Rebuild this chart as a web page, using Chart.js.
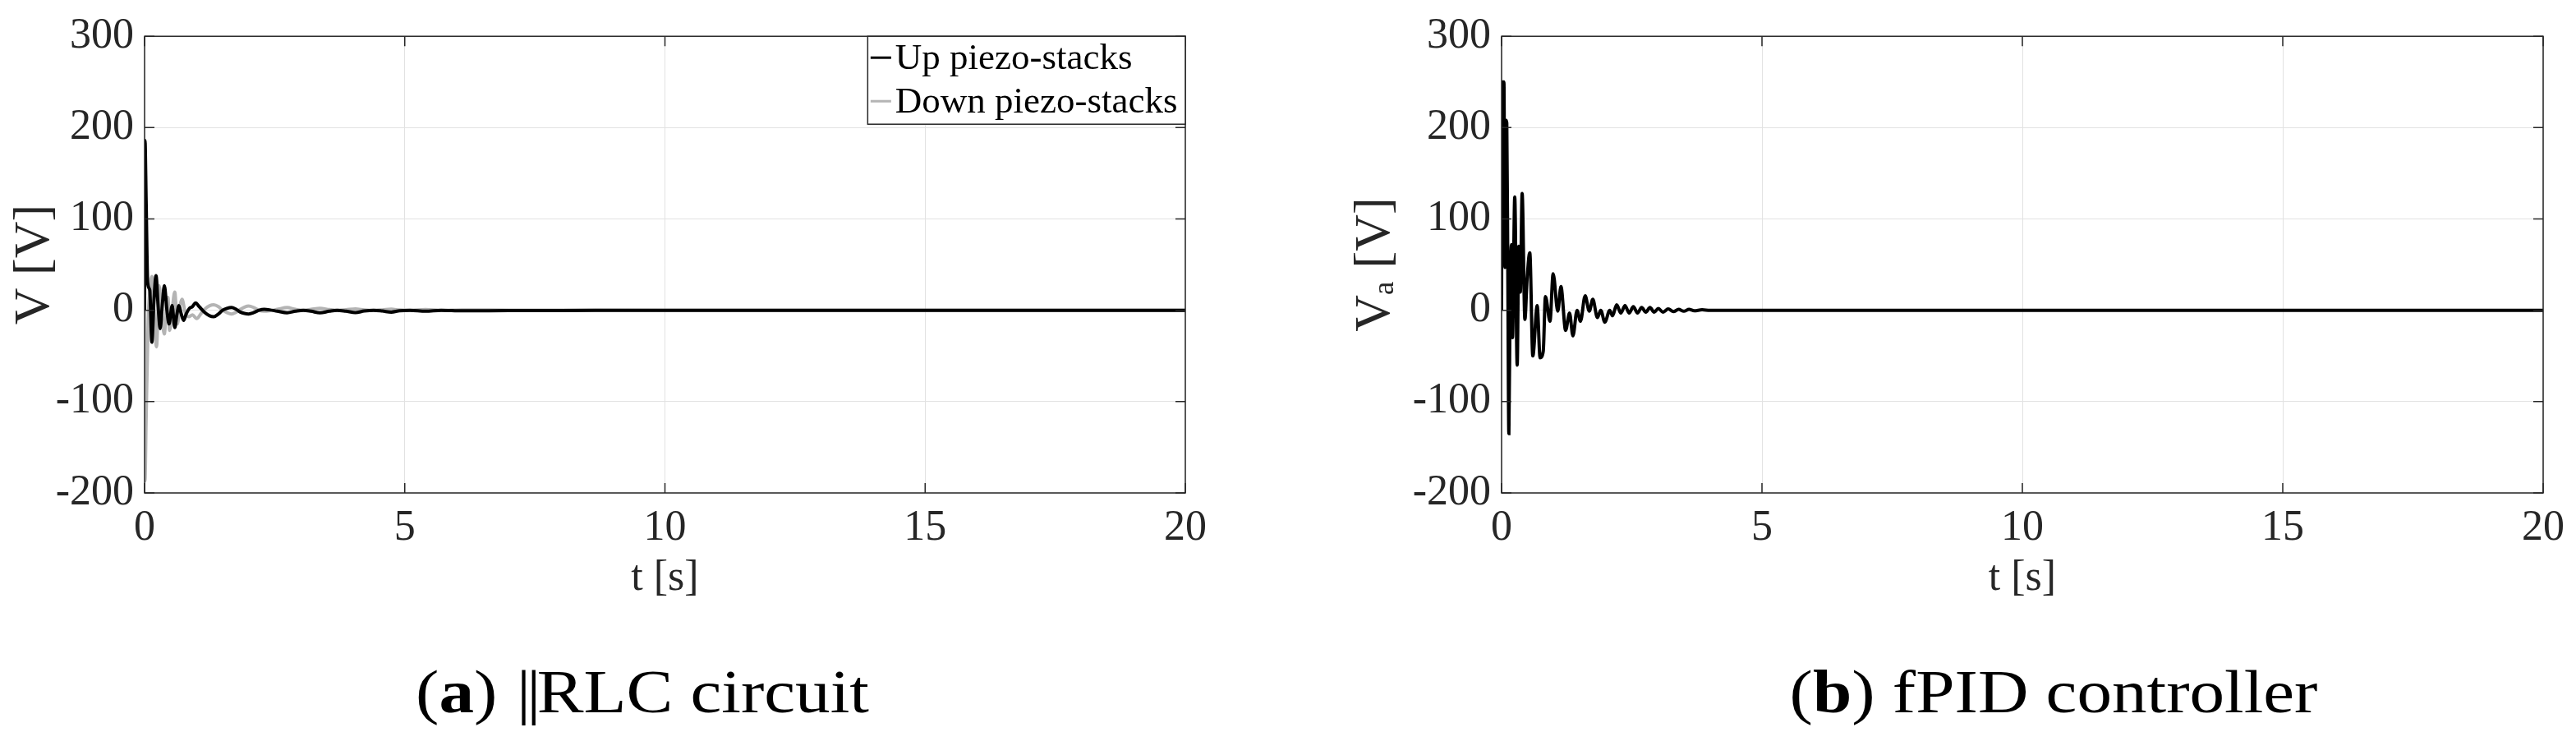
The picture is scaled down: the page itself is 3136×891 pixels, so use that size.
<!DOCTYPE html>
<html>
<head>
<meta charset="utf-8">
<script src="https://cdn.jsdelivr.net/npm/chart.js@4.4.1/dist/chart.umd.min.js"></script>
<style>
  html, body { margin: 0; padding: 0; background: #fff; }
  body { width: 3136px; height: 891px; position: relative; overflow: hidden; }
  .panel { position: absolute; top: 0; height: 736px; }
  .caption { position: absolute; top: 805px; font-family: "Liberation Serif", serif; font-size: 74px; color: #000; white-space: nowrap; transform: translateX(-50%) scaleX(1.15); line-height: 1; }
  .bars { letter-spacing: -4px; margin-left: 6px; }
</style>
</head>
<body>
<div class="panel" style="left:0;width:1500px;"><canvas id="chartA" width="1500" height="736"></canvas></div>
<div class="panel" style="left:1568px;width:1568px;"><canvas id="chartB" width="1568" height="736"></canvas></div>
<div class="caption" style="left:782px;">(<b>a</b>)<span class="bars"> ||</span>RLC circuit</div>
<div class="caption" style="left:2500px;">(<b>b</b>) fPID controller</div>
<script>
// ---------- data ----------
const xTicks = [0, 5, 10, 15, 20];
const yTicks = [-200, -100, 0, 100, 200, 300];

const seriesNamesA = ["Up piezo-stacks", "Down piezo-stacks"];

const upT = [0, 0.008, 0.03, 0.06, 0.1, 0.14, 0.18, 0.22, 0.26, 0.3, 0.34, 0.38, 0.43, 0.47, 0.53, 0.58, 0.62, 0.66, 0.7, 0.75, 0.8, 0.86, 0.92, 0.98, 1.05, 1.15, 1.25, 1.33, 1.42, 1.5, 1.58, 1.67, 1.76, 1.84, 1.92, 2.0, 2.1, 2.2, 2.3, 2.4, 2.55, 2.74, 2.9, 3.05, 3.2, 3.37, 3.55, 3.7, 3.87, 4.05, 4.22, 4.4, 4.57, 4.74, 4.9, 5.1, 5.4, 5.7, 6.1, 7, 8, 10, 12, 15, 20];
const upV = [0, 186, 120, 30, 22, -35, 10, 38, 5, -20, 5, 27, 0, -15, 5, -19, -5, 5, -3, -11, -4, 2, 4, 8, 4, -2, -6, -7, -4, 0, 2, 3, 1, -2, -3.5, -4, -2.5, 0, 1, 0.5, -1, -2.7, -1, 0, -1, -2.8, -1, 0, -1, -2.5, -0.8, 0, -0.8, -2, -0.5, 0, -1, 0, -0.6, -0.3, -0.2, 0, 0, 0, 0];

const downT = [0, 0.008, 0.03, 0.07, 0.1, 0.14, 0.18, 0.23, 0.28, 0.33, 0.38, 0.42, 0.45, 0.48, 0.53, 0.58, 0.63, 0.68, 0.72, 0.78, 0.85, 0.92, 1.0, 1.08, 1.15, 1.25, 1.33, 1.42, 1.5, 1.58, 1.67, 1.76, 1.84, 1.92, 2.0, 2.1, 2.2, 2.3, 2.4, 2.55, 2.74, 2.9, 3.05, 3.2, 3.37, 3.55, 3.7, 3.87, 4.05, 4.22, 4.4, 4.57, 4.74, 4.9, 5.1, 5.4, 5.7, 6.1, 7, 8, 10, 12, 15, 20];
const downV = [0, -187, -120, -10, 20, 37, 0, -40, 27, -5, -26, 5, 14, -22, 0, 20, -15, 5, 12, -2, -7, -5, -9, -4, 1, 5, 6, 4, 0, -2.5, -4, -2, 1, 3.5, 4.7, 3, 0, -1, -0.5, 1, 3, 1, 0, 1, 2.2, 0.8, 0, 0.6, 1.5, 0.5, 0, 0.5, 1.2, 0.3, 0, 0.8, 0, 0.4, 0.2, 0.1, 0, 0, 0, 0];

const fpidT = [0, 0.005, 0.01, 0.045, 0.065, 0.085, 0.1, 0.12, 0.14, 0.165, 0.19, 0.21, 0.253, 0.3, 0.33, 0.36, 0.395, 0.448, 0.49, 0.542, 0.6, 0.684, 0.74, 0.8, 0.842, 0.93, 0.99, 1.08, 1.14, 1.23, 1.305, 1.37, 1.45, 1.515, 1.605, 1.684, 1.752, 1.84, 1.904, 1.983, 2.077, 2.13, 2.21, 2.29, 2.37, 2.45, 2.53, 2.61, 2.69, 2.77, 2.85, 2.93, 3.01, 3.1, 3.2, 3.3, 3.4, 3.5, 3.6, 3.7, 3.85, 4.0, 4.5, 6, 10, 15, 20];
const fpidV = [0, 150, 250, 250, 47, 208, 205, 40, -135, 20, 72, -30, 124, -60, 70, 20, 128, -10, 34, 63, -50, 5, -52, -45, 15, -12, 40, -1, 26, -22, -3, -28, 0, -12, 16, -1, 12, -8, 0, -13, 0, -6, 6, -3, 5, -3, 4, -3, 3, -2, 3, -2, 2, -2, 1.5, -1.5, 1, -1, 1, -0.5, 0.5, 0, 0, 0, 0, 0, 0];

// ---------- helpers ----------
const toPts = (t, v) => t.map((x, i) => ({ x: x, y: v[i] }));
const AXIS_COLOR = '#262626';
const TICK_FONT = { family: 'Liberation Serif', size: 52 };
const XTITLE_FONT = { family: 'Liberation Serif', size: 52 };
const YTITLE_FONT = { family: 'Liberation Serif', size: 62 };

const boxAndTicks = {
  id: 'boxAndTicks',
  afterDraw(chart) {
    const { ctx, chartArea: a, scales } = chart;
    ctx.save();
    ctx.strokeStyle = AXIS_COLOR;
    ctx.lineWidth = 1.5;
    const len = 12;
    ctx.beginPath();
    scales.x.ticks.forEach(t => {
      const px = scales.x.getPixelForValue(t.value);
      ctx.moveTo(px, a.bottom); ctx.lineTo(px, a.bottom - len);
      ctx.moveTo(px, a.top); ctx.lineTo(px, a.top + len);
    });
    scales.y.ticks.forEach(t => {
      const py = scales.y.getPixelForValue(t.value);
      ctx.moveTo(a.left, py); ctx.lineTo(a.left + len, py);
      ctx.moveTo(a.right, py); ctx.lineTo(a.right - len, py);
    });
    ctx.stroke();
    ctx.strokeRect(a.left, a.top, a.right - a.left, a.bottom - a.top);
    ctx.restore();
  }
};

const boxLegend = {
  id: 'boxLegend',
  afterDraw(chart, args, opts) {
    if (!opts || !opts.show) return;
    const { ctx, chartArea: a } = chart;
    const ds = chart.data.datasets;
    ctx.save();
    ctx.font = '45px "Liberation Serif"';
    let tw = 0;
    ds.forEach(d => { tw = Math.max(tw, ctx.measureText(d.label).width); });
    const padL = 3.5, lineLen = 25, gap = 5, padR = 9.5, rowH = 53;
    const w = padL + lineLen + gap + tw + padR;
    const h = rowH * ds.length + 1;
    const x0 = a.right - w, y0 = a.top;
    ctx.fillStyle = '#fff';
    ctx.fillRect(x0, y0, w, h);
    ctx.strokeStyle = AXIS_COLOR;
    ctx.lineWidth = 1.5;
    ctx.strokeRect(x0, y0, w, h);
    ds.forEach((d, i) => {
      const cy = y0 + 26 + i * rowH;
      ctx.strokeStyle = d.borderColor;
      ctx.lineWidth = 3;
      ctx.beginPath();
      ctx.moveTo(x0 + padL, cy); ctx.lineTo(x0 + padL + lineLen, cy);
      ctx.stroke();
      ctx.fillStyle = '#000';
      ctx.textBaseline = 'middle';
      ctx.textAlign = 'left';
      ctx.fillText(d.label, x0 + padL + lineLen + gap, cy + 2);
    });
    ctx.restore();
  }
};

function makeOptions(yTitle, yAxisWidth, yTitlePad, padRight, showLegend) {
  return {
    responsive: false,
    animation: false,
    layout: { padding: { left: 0, right: padRight, top: 39, bottom: 0 } },
    plugins: {
      legend: { display: false },
      tooltip: { enabled: false },
      boxLegend: { show: showLegend }
    },
    elements: { point: { radius: 0 } },
    scales: {
      x: {
        type: 'linear', min: xTicks[0], max: xTicks[xTicks.length - 1],
        afterBuildTicks: s => { s.ticks = xTicks.map(v => ({ value: v })); },
        afterFit: s => { s.height = 136; },
        ticks: { font: TICK_FONT, color: AXIS_COLOR, padding: 12, maxRotation: 0, autoSkip: false },
        grid: { color: '#e2e2e2', lineWidth: 1, drawTicks: false },
        border: { display: false },
        title: { display: true, text: 't [s]', font: XTITLE_FONT, color: AXIS_COLOR, padding: { top: 0, bottom: 0 } }
      },
      y: {
        type: 'linear', min: yTicks[0], max: yTicks[yTicks.length - 1],
        afterBuildTicks: s => { s.ticks = yTicks.map(v => ({ value: v })); },
        afterFit: s => { s.width = yAxisWidth; },
        ticks: { font: TICK_FONT, color: AXIS_COLOR, padding: 13, autoSkip: false },
        grid: { color: '#e2e2e2', lineWidth: 1, drawTicks: false },
        border: { display: false },
        title: { display: true, text: yTitle, font: YTITLE_FONT, color: AXIS_COLOR, padding: { top: yTitlePad, bottom: 0 } }
      }
    }
  };
}

new Chart(document.getElementById('chartA'), {
  type: 'line',
  data: {
    datasets: [
      { label: seriesNamesA[0], data: toPts(upT, upV), borderColor: '#000000', borderWidth: 4, cubicInterpolationMode: 'monotone', order: 0 },
      { label: seriesNamesA[1], data: toPts(downT, downV), borderColor: '#b4b4b4', borderWidth: 4, cubicInterpolationMode: 'monotone', order: 1 }
    ]
  },
  options: makeOptions('V [V]', 176, 6, 57, true),
  plugins: [boxAndTicks, boxLegend]
});

new Chart(document.getElementById('chartB'), {
  type: 'line',
  data: {
    datasets: [
      { label: 'V_a', data: toPts(fpidT, fpidV), borderColor: '#000000', borderWidth: 4, cubicInterpolationMode: 'monotone' }
    ]
  },
  options: makeOptions('Vₐ [V]', 260, 70, 40, false),
  plugins: [boxAndTicks, boxLegend]
});
</script>
</body>
</html>
